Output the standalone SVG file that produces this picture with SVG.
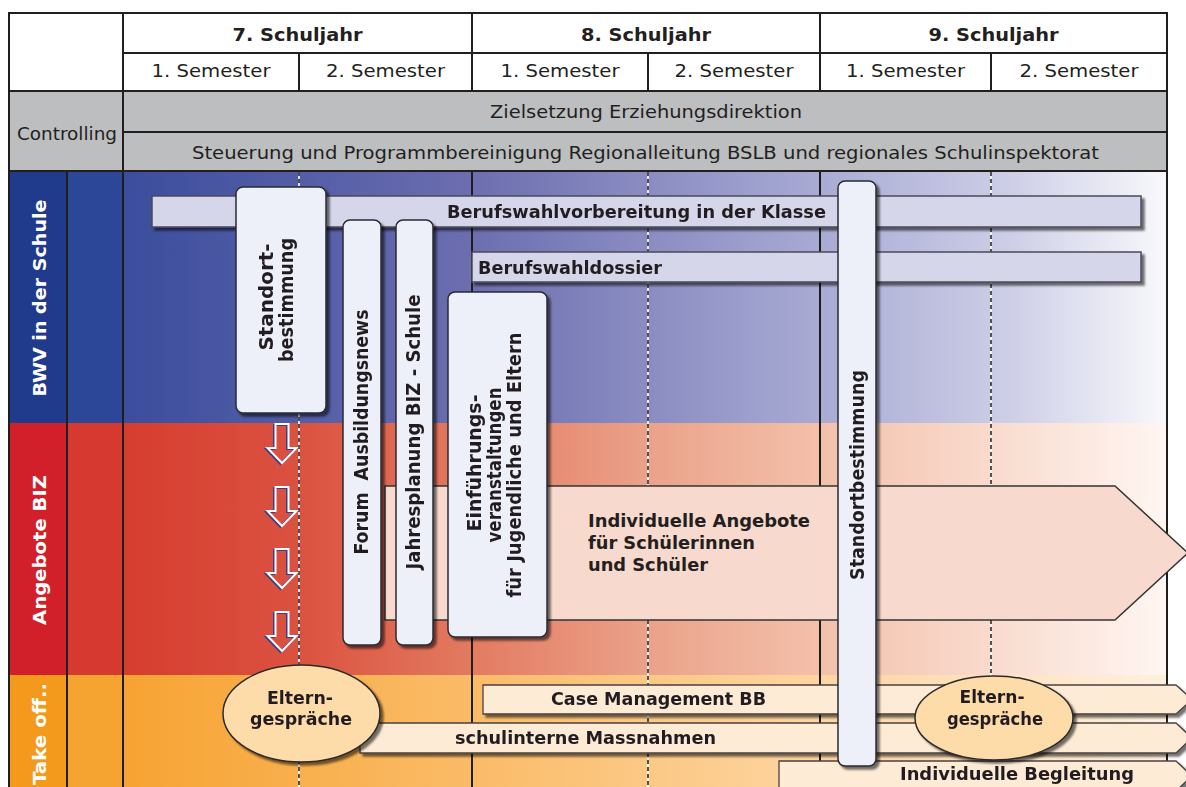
<svg xmlns="http://www.w3.org/2000/svg" width="1186" height="787" viewBox="0 0 1186 787">
<defs>
<style>
.t{font-family:"DejaVu Sans Condensed","DejaVu Sans",Verdana,sans-serif;fill:#231f20}
.b{font-weight:bold}
.w{fill:#ffffff;font-weight:bold}
.hl{stroke:#231f20;stroke-width:2;fill:none}
.box{fill:#eef0f9;stroke:#2a2a33;stroke-width:1.5}
.barB{fill:#d6d6ea;stroke:#4a4a5a;stroke-width:1.5}
.barO{fill:#fdebd6;stroke:#4a4040;stroke-width:1.3}
.ell{fill:#fddcaa;stroke:#2a2a2a;stroke-width:1.5}
.dashW{stroke:#ffffff;stroke-width:1.6}
.dashK{stroke:#2a2a2a;stroke-width:1.6;stroke-dasharray:4 3}
.solid{stroke:#1e1e1e;stroke-width:2}
</style>
<linearGradient id="gBWV" gradientUnits="userSpaceOnUse" x1="123" y1="0" x2="1167" y2="0">
<stop offset="0" stop-color="#3b4d9d"/><stop offset="0.33" stop-color="#6b6daf"/><stop offset="0.67" stop-color="#a9abd4"/><stop offset="0.84" stop-color="#cbcce5"/><stop offset="1" stop-color="#f8f8fc"/>
</linearGradient>
<linearGradient id="gBIZ" gradientUnits="userSpaceOnUse" x1="123" y1="0" x2="1167" y2="0">
<stop offset="0" stop-color="#d63d2f"/><stop offset="0.17" stop-color="#db5240"/><stop offset="0.33" stop-color="#e27a60"/><stop offset="0.5" stop-color="#eba189"/><stop offset="0.67" stop-color="#f3c1ab"/><stop offset="0.84" stop-color="#f9dccf"/><stop offset="1" stop-color="#fff6f2"/>
</linearGradient>
<linearGradient id="gTO" gradientUnits="userSpaceOnUse" x1="123" y1="0" x2="1167" y2="0">
<stop offset="0" stop-color="#f7a332"/><stop offset="0.33" stop-color="#fabb67"/><stop offset="0.67" stop-color="#fdd5a2"/><stop offset="1" stop-color="#fef0de"/>
</linearGradient>
<filter id="sh" x="-20%" y="-20%" width="140%" height="140%">
<feDropShadow dx="3" dy="3" stdDeviation="1.2" flood-color="#000" flood-opacity="0.55"/>
</filter>
<path id="darr" d="M0,0 L13,0 L13,24 L21,24 L6.5,39 L-8,24 L0,24 Z"/>
</defs>

<rect width="1186" height="787" fill="#ffffff"/>

<!-- header -->
<g id="header">
<rect x="9" y="13" width="1158" height="78" fill="#ffffff"/>
<rect x="9" y="91" width="1158" height="80" fill="#bcbec0"/>
<line class="hl" x1="9" y1="13" x2="1167" y2="13"/>
<line class="hl" x1="123" y1="53" x2="1167" y2="53"/>
<line class="hl" x1="9" y1="91" x2="1167" y2="91"/>
<line class="hl" x1="123" y1="132" x2="1167" y2="132"/>
<line class="hl" x1="9" y1="171" x2="1167" y2="171"/>
<line class="hl" x1="123" y1="13" x2="123" y2="171"/>
<line class="hl" x1="472" y1="13" x2="472" y2="91"/>
<line class="hl" x1="820" y1="13" x2="820" y2="91"/>
<line class="hl" x1="299" y1="53" x2="299" y2="91"/>
<line class="hl" x1="648" y1="53" x2="648" y2="91"/>
<line class="hl" x1="991" y1="53" x2="991" y2="91"/>
<text class="t b" x="297.5" y="41" font-size="18" text-anchor="middle" textLength="130" lengthAdjust="spacingAndGlyphs">7. Schuljahr</text>
<text class="t b" x="646" y="41" font-size="18" text-anchor="middle" textLength="130" lengthAdjust="spacingAndGlyphs">8. Schuljahr</text>
<text class="t b" x="993.5" y="41" font-size="18" text-anchor="middle" textLength="130" lengthAdjust="spacingAndGlyphs">9. Schuljahr</text>
<text class="t" x="211" y="77" font-size="17.5" text-anchor="middle" textLength="119" lengthAdjust="spacingAndGlyphs">1. Semester</text>
<text class="t" x="385.5" y="77" font-size="17.5" text-anchor="middle" textLength="119" lengthAdjust="spacingAndGlyphs">2. Semester</text>
<text class="t" x="560" y="77" font-size="17.5" text-anchor="middle" textLength="119" lengthAdjust="spacingAndGlyphs">1. Semester</text>
<text class="t" x="734" y="77" font-size="17.5" text-anchor="middle" textLength="119" lengthAdjust="spacingAndGlyphs">2. Semester</text>
<text class="t" x="905.5" y="77" font-size="17.5" text-anchor="middle" textLength="119" lengthAdjust="spacingAndGlyphs">1. Semester</text>
<text class="t" x="1079" y="77" font-size="17.5" text-anchor="middle" textLength="119" lengthAdjust="spacingAndGlyphs">2. Semester</text>
<text class="t" x="67" y="140" font-size="17.5" text-anchor="middle" textLength="100" lengthAdjust="spacingAndGlyphs">Controlling</text>
<text class="t" x="646" y="118" font-size="17.5" text-anchor="middle" textLength="312" lengthAdjust="spacingAndGlyphs">Zielsetzung Erziehungsdirektion</text>
<text class="t" x="645.5" y="159" font-size="17.5" text-anchor="middle" textLength="907" lengthAdjust="spacingAndGlyphs">Steuerung und Programmbereinigung Regionalleitung BSLB und regionales Schulinspektorat</text>
</g>

<!-- lanes -->
<g id="lanes">
<rect x="123" y="172" width="1044" height="251" fill="url(#gBWV)"/>
<rect x="123" y="423" width="1044" height="252" fill="url(#gBIZ)"/>
<rect x="123" y="675" width="1044" height="112" fill="url(#gTO)"/>
<rect x="9" y="172" width="58" height="251" fill="#203a8c"/>
<rect x="67" y="172" width="56" height="251" fill="#2d4798"/>
<rect x="9" y="423" width="58" height="252" fill="#d2202a"/>
<rect x="67" y="423" width="56" height="252" fill="#d5392f"/>
<rect x="9" y="675" width="58" height="112" fill="#f39a1c"/>
<rect x="67" y="675" width="56" height="112" fill="#f6a431"/>
<text class="t w" transform="translate(46,298) rotate(-90)" font-size="18" text-anchor="middle" textLength="197" lengthAdjust="spacingAndGlyphs">BWV in der Schule</text>
<text class="t w" transform="translate(46,550) rotate(-90)" font-size="18" text-anchor="middle" textLength="150" lengthAdjust="spacingAndGlyphs">Angebote BIZ</text>
<text class="t w" transform="translate(46,785) rotate(-90)" font-size="18" textLength="102" lengthAdjust="spacingAndGlyphs">Take off..</text>
</g>

<!-- grid lines -->
<g id="grid">
<line class="dashW" x1="299" y1="172" x2="299" y2="787"/>
<line class="dashK" x1="299" y1="172" x2="299" y2="787"/>
<line class="dashW" x1="648" y1="172" x2="648" y2="787"/>
<line class="dashK" x1="648" y1="172" x2="648" y2="787"/>
<line class="dashW" x1="991" y1="172" x2="991" y2="787"/>
<line class="dashK" x1="991" y1="172" x2="991" y2="787"/>
<line class="solid" x1="472" y1="172" x2="472" y2="787"/>
<line class="solid" x1="820" y1="172" x2="820" y2="787"/>
<line class="solid" x1="67" y1="172" x2="67" y2="787"/>
<line class="solid" x1="123" y1="172" x2="123" y2="787"/>
<line class="solid" x1="9" y1="12" x2="9" y2="787"/>
<line class="solid" x1="1167" y1="12" x2="1167" y2="787"/>
</g>

<!-- horizontal bars -->
<g id="bar-klasse" filter="url(#sh)">
<rect class="barB" x="152" y="196" width="989" height="31"/>
<text class="t b" x="447" y="218" font-size="17.5" textLength="379" lengthAdjust="spacingAndGlyphs">Berufswahlvorbereitung in der Klasse</text>
</g>
<g id="bar-dossier" filter="url(#sh)">
<rect class="barB" x="472" y="252" width="669" height="30"/>
<text class="t b" x="478" y="274" font-size="17.5" textLength="184" lengthAdjust="spacingAndGlyphs">Berufswahldossier</text>
</g>
<g id="arrow-angebote">
<path d="M385,486 L1115,486 L1188,553 L1115,620 L385,620 Z" fill="#f7dacd" stroke="#333" stroke-width="1.5"/>
<text class="t b" font-size="18">
<tspan x="588" y="527" textLength="222" lengthAdjust="spacingAndGlyphs">Individuelle Angebote</tspan>
<tspan x="588" y="549" textLength="167" lengthAdjust="spacingAndGlyphs">für Schülerinnen</tspan>
<tspan x="588" y="571" textLength="120" lengthAdjust="spacingAndGlyphs">und Schüler</tspan>
</text>
</g>
<g id="bar-case" filter="url(#sh)">
<path class="barO" d="M483,685 L1176,685 L1192,699.5 L1176,714 L483,714 Z"/>
<text class="t b" x="551" y="705" font-size="17.5" textLength="215" lengthAdjust="spacingAndGlyphs">Case Management BB</text>
</g>
<g id="bar-schulintern" filter="url(#sh)">
<path class="barO" d="M360,723 L1176,723 L1192,738 L1176,753 L360,753 Z"/>
<text class="t b" x="455" y="744" font-size="17.5" textLength="261" lengthAdjust="spacingAndGlyphs">schulinterne Massnahmen</text>
</g>
<g id="bar-begleitung" filter="url(#sh)">
<path class="barO" d="M779,761 L1176,761 L1192,776 L1176,791 L779,791 Z"/>
<text class="t b" x="900" y="780" font-size="17.5" textLength="234" lengthAdjust="spacingAndGlyphs">Individuelle Begleitung</text>
</g>

<!-- vertical boxes -->
<g id="box-standort1" filter="url(#sh)">
<rect class="box" x="236" y="187" width="90" height="226" rx="7"/>
<text class="t b" transform="translate(273,297) rotate(-90)" font-size="19" text-anchor="middle" textLength="107" lengthAdjust="spacingAndGlyphs">Standort-</text>
<text class="t b" transform="translate(293,300) rotate(-90)" font-size="19" text-anchor="middle" textLength="124" lengthAdjust="spacingAndGlyphs">bestimmung</text>
</g>
<g id="box-forum" filter="url(#sh)">
<rect class="box" x="343" y="220" width="38" height="425" rx="7"/>
<text class="t b" transform="translate(368,432) rotate(-90)" font-size="19" text-anchor="middle" textLength="245" lengthAdjust="spacingAndGlyphs" xml:space="preserve">Forum  Ausbildungsnews</text>
</g>
<g id="box-jahresplanung" filter="url(#sh)">
<rect class="box" x="396" y="220" width="37" height="425" rx="7"/>
<text class="t b" transform="translate(420,432) rotate(-90)" font-size="19" text-anchor="middle" textLength="275" lengthAdjust="spacingAndGlyphs">Jahresplanung BIZ - Schule</text>
</g>
<g id="box-einfuehrung" filter="url(#sh)">
<rect class="box" x="448" y="292" width="99" height="345" rx="7"/>
<text class="t b" transform="translate(481,463) rotate(-90)" font-size="19" text-anchor="middle" textLength="137" lengthAdjust="spacingAndGlyphs">Einführungs-</text>
<text class="t b" transform="translate(501,465) rotate(-90)" font-size="19" text-anchor="middle" textLength="155" lengthAdjust="spacingAndGlyphs">veranstaltungen</text>
<text class="t b" transform="translate(521,465) rotate(-90)" font-size="19" text-anchor="middle" textLength="265" lengthAdjust="spacingAndGlyphs">für Jugendliche und Eltern</text>
</g>
<g id="box-standort2" filter="url(#sh)">
<rect class="box" x="838" y="181" width="38" height="585" rx="7"/>
<text class="t b" transform="translate(864,475) rotate(-90)" font-size="19" text-anchor="middle" textLength="210" lengthAdjust="spacingAndGlyphs">Standortbestimmung</text>
</g>

<!-- ellipses -->
<g id="eltern1" filter="url(#sh)">
<ellipse class="ell" cx="301.5" cy="713.5" rx="78.5" ry="48.5"/>
<text class="t b" x="300" y="704" font-size="18" text-anchor="middle" textLength="66" lengthAdjust="spacingAndGlyphs">Eltern-</text>
<text class="t b" x="301" y="725" font-size="18" text-anchor="middle" textLength="102" lengthAdjust="spacingAndGlyphs">gespräche</text>
</g>
<g id="eltern2" filter="url(#sh)">
<ellipse class="ell" cx="994" cy="718" rx="79" ry="42"/>
<text class="t b" x="992" y="703" font-size="18" text-anchor="middle" textLength="65" lengthAdjust="spacingAndGlyphs">Eltern-</text>
<text class="t b" x="995" y="725" font-size="18" text-anchor="middle" textLength="96" lengthAdjust="spacingAndGlyphs">gespräche</text>
</g>

<!-- down arrows -->
<g id="connectors">
<g fill="none" stroke="#3a3f8c" stroke-width="2">
<use href="#darr" x="274" y="425"/>
<use href="#darr" x="274" y="488"/>
<use href="#darr" x="274" y="550"/>
<use href="#darr" x="274" y="613"/>
</g>
<g fill="none" stroke="#ffffff" stroke-width="2">
<use href="#darr" x="275.5" y="424"/>
<use href="#darr" x="275.5" y="487"/>
<use href="#darr" x="275.5" y="549"/>
<use href="#darr" x="275.5" y="612"/>
</g>
</g>
</svg>
